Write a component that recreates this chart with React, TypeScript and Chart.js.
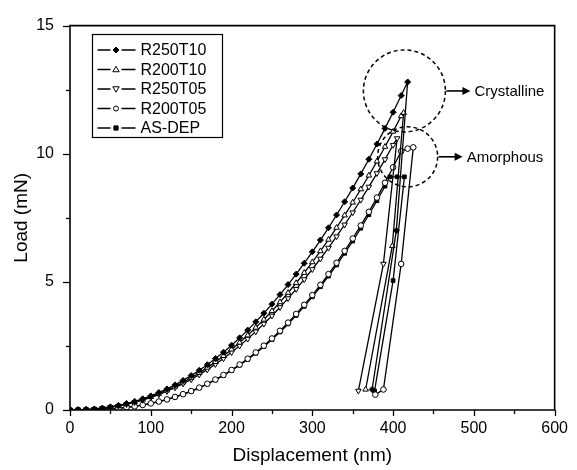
import React, { useEffect, useRef } from 'react';
import { Chart, registerables } from 'chart.js';

Chart.register(...registerables);

// Displacement grid (nm) for the loading branches
const loadDisp = [0, 10, 20, 30, 40, 50, 60, 70, 80, 90, 100, 110, 120, 130, 140, 150, 160, 170, 180, 190, 200, 210, 220, 230, 240, 250, 260, 270, 280, 290, 300, 310, 320, 330, 340, 350, 360, 370, 380, 390, 400, 410];

// Loading branches (mN)
const r250t10Load = [0, 0.004, 0.016, 0.039, 0.073, 0.12, 0.179, 0.251, 0.337, 0.436, 0.55, 0.679, 0.822, 0.98, 1.154, 1.343, 1.548, 1.769, 2.006, 2.258, 2.529, 2.815, 3.118, 3.439, 3.776, 4.132, 4.503, 4.893, 5.302, 5.727, 6.171, 6.632, 7.11, 7.61, 8.125, 8.66, 9.214, 9.787, 10.378, 10.988, 11.619, 12.27];
const r200t10Load = [0, 0.003, 0.015, 0.036, 0.068, 0.112, 0.167, 0.235, 0.315, 0.408, 0.514, 0.635, 0.769, 0.916, 1.079, 1.256, 1.447, 1.654, 1.876, 2.111, 2.365, 2.632, 2.915, 3.215, 3.531, 3.863, 4.21, 4.575, 4.957, 5.355, 5.77, 6.201, 6.648, 7.115, 7.597, 8.097, 8.615, 9.151, 9.703, 10.274, 10.864, 11.47];
const r250t05Load = [0, 0.003, 0.014, 0.035, 0.065, 0.107, 0.159, 0.223, 0.3, 0.388, 0.49, 0.604, 0.732, 0.872, 1.027, 1.195, 1.378, 1.574, 1.785, 2.01, 2.251, 2.505, 2.775, 3.061, 3.361, 3.677, 4.008, 4.355, 4.719, 5.097, 5.492, 5.902, 6.328, 6.773, 7.231, 7.707, 8.2, 8.71, 9.236, 9.779, 10.341];
const r200t05Load = [0, 0.001, 0.004, 0.011, 0.024, 0.043, 0.068, 0.102, 0.144, 0.196, 0.258, 0.33, 0.414, 0.51, 0.618, 0.739, 0.874, 1.024, 1.188, 1.367, 1.562, 1.773, 2.001, 2.246, 2.509, 2.791, 3.091, 3.409, 3.747, 4.105, 4.483, 4.882, 5.302, 5.743, 6.206, 6.692, 7.201, 7.734, 8.289, 8.866, 9.472, 10.1];
const asDepLoad = [0, 0.001, 0.004, 0.011, 0.023, 0.042, 0.067, 0.1, 0.142, 0.193, 0.254, 0.325, 0.408, 0.502, 0.609, 0.728, 0.861, 1.009, 1.17, 1.346, 1.539, 1.746, 1.971, 2.212, 2.471, 2.749, 3.045, 3.358, 3.691, 4.043, 4.416, 4.809, 5.222, 5.657, 6.113, 6.592, 7.093, 7.618, 8.165, 8.733];

// Peak hold + unloading branches
const r250t10TailDisp = [418, 404, 374];
const r250t10TailLoad = [12.8, 7.0, 0.8];
const r200t10TailDisp = [413, 399, 366];
const r200t10TailLoad = [11.6, 6.4, 0.8];
const r250t05TailDisp = [405, 388, 357];
const r250t05TailLoad = [10.6, 5.7, 0.75];
const r200t05TailDisp = [418, 425, 410, 388, 378];
const r200t05TailLoad = [10.2, 10.25, 5.7, 0.8, 0.6];
const asDepTailDisp = [396, 405, 414, 400, 377];
const asDepTailLoad = [9.1, 9.1, 9.1, 5.05, 0.75];

const seriesLabels = ['R250T10', 'R200T10', 'R250T05', 'R200T05', 'AS-DEP'];

const xTickValues = [0, 100, 200, 300, 400, 500, 600];
const yTickValues = [0, 5, 10, 15];

const annotationLabels = ['Crystalline', 'Amorphous'];
// circle centres in data units (nm, mN)
const annotationCentres = [
  [414, 12.45],
  [418, 9.88],
];

const FONT = '"Liberation Sans", Arial, Helvetica, sans-serif';

function buildPoints(load: number[], tailX: number[], tailY: number[]) {
  const pts = load.map((y, i) => ({ x: loadDisp[i], y }));
  tailX.forEach((x, i) => pts.push({ x, y: tailY[i] }));
  return pts;
}

const styles = [
  { pointStyle: 'rectRot', rotation: 0, fill: '#000', r: 3 },
  { pointStyle: 'triangle', rotation: 0, fill: '#fff', r: 3.2 },
  { pointStyle: 'triangle', rotation: 180, fill: '#fff', r: 3.2 },
  { pointStyle: 'circle', rotation: 0, fill: '#fff', r: 2.8 },
  { pointStyle: 'rect', rotation: 0, fill: '#000', r: 2.6 },
];

export default function App() {
  const ref = useRef<HTMLCanvasElement | null>(null);

  useEffect(() => {
    const canvas = ref.current;
    if (!canvas) return;

    const dataSets = [
      buildPoints(r250t10Load, r250t10TailDisp, r250t10TailLoad),
      buildPoints(r200t10Load, r200t10TailDisp, r200t10TailLoad),
      buildPoints(r250t05Load, r250t05TailDisp, r250t05TailLoad),
      buildPoints(r200t05Load, r200t05TailDisp, r200t05TailLoad),
      buildPoints(asDepLoad, asDepTailDisp, asDepTailLoad),
    ];

    const drawMarker = (ctx: CanvasRenderingContext2D, idx: number, x: number, y: number) => {
      const s = styles[idx];
      ctx.save();
      ctx.fillStyle = s.fill;
      ctx.strokeStyle = '#000';
      ctx.lineWidth = 1;
      ctx.beginPath();
      const r = s.r;
      if (s.pointStyle === 'rectRot') {
        ctx.moveTo(x, y - r); ctx.lineTo(x + r, y); ctx.lineTo(x, y + r); ctx.lineTo(x - r, y); ctx.closePath();
      } else if (s.pointStyle === 'triangle') {
        const d = s.rotation === 180 ? -1 : 1;
        ctx.moveTo(x, y - d * r); ctx.lineTo(x + r, y + d * r * 0.7); ctx.lineTo(x - r, y + d * r * 0.7); ctx.closePath();
      } else if (s.pointStyle === 'circle') {
        ctx.arc(x, y, r - 0.3, 0, Math.PI * 2);
      } else {
        ctx.rect(x - r + 0.5, y - r + 0.5, 2 * r - 1, 2 * r - 1);
      }
      ctx.fill();
      ctx.stroke();
      ctx.restore();
    };

    const decorations = {
      id: 'decorations',
      afterDraw(chart: any) {
        const ctx: CanvasRenderingContext2D = chart.ctx;
        const { left, right, top, bottom } = chart.chartArea;
        const xs = chart.scales.x;
        const ys = chart.scales.y;
        ctx.save();
        ctx.strokeStyle = '#000';
        // frame
        ctx.lineWidth = 1.6;
        ctx.beginPath();
        ctx.moveTo(left, top); ctx.lineTo(left, bottom); ctx.lineTo(right, bottom); ctx.lineTo(right, top); ctx.closePath();
        ctx.stroke();
        // y ticks
        ctx.lineWidth = 1.3;
        for (let v = 0; v <= 15; v += 2.5) {
          const py = Math.round(ys.getPixelForValue(v)) + 0.5;
          const len = v % 5 === 0 ? 7 : 4;
          ctx.beginPath(); ctx.moveTo(left - len, py); ctx.lineTo(left, py); ctx.stroke();
        }
        // x ticks
        for (let v = 0; v <= 600; v += 50) {
          const px = Math.round(xs.getPixelForValue(v)) + 0.5;
          const len = v % 100 === 0 ? 6 : 4;
          ctx.beginPath(); ctx.moveTo(px, bottom); ctx.lineTo(px, bottom + len); ctx.stroke();
        }

        // legend
        const lx = 92.5, ly = 34.5, lw = 130, lh = 103;
        ctx.lineWidth = 1.2;
        ctx.fillStyle = '#fff';
        ctx.fillRect(lx, ly, lw, lh);
        ctx.strokeRect(lx, ly, lw, lh);
        ctx.font = `16px ${FONT}`;
        ctx.textBaseline = 'middle';
        ctx.textAlign = 'left';
        seriesLabels.forEach((lab, i) => {
          const ry = ly + 15.5 + i * 19.5;
          ctx.lineWidth = 1.5;
          ctx.strokeStyle = '#000';
          ctx.beginPath();
          ctx.moveTo(lx + 5, ry); ctx.lineTo(lx + 18, ry);
          ctx.moveTo(lx + 29, ry); ctx.lineTo(lx + 43, ry);
          ctx.stroke();
          drawMarker(ctx, i, lx + 23.5, ry);
          ctx.fillStyle = '#000';
          ctx.fillText(lab, lx + 48, ry + 1);
        });

        // annotation circles + arrows
        const radii = [41, 30];
        annotationLabels.forEach((lab, i) => {
          const cx = xs.getPixelForValue(annotationCentres[i][0]);
          const cy = ys.getPixelForValue(annotationCentres[i][1]);
          const r = radii[i];
          ctx.save();
          ctx.setLineDash([4, 3]);
          ctx.lineWidth = 1.5;
          ctx.beginPath();
          ctx.arc(cx, cy, r, 0, Math.PI * 2);
          ctx.stroke();
          ctx.restore();
          const ax0 = cx + r + 1;
          const ax1 = ax0 + 24;
          ctx.lineWidth = 1.6;
          ctx.beginPath(); ctx.moveTo(ax0, cy); ctx.lineTo(ax1 - 6, cy); ctx.stroke();
          ctx.fillStyle = '#000';
          ctx.beginPath(); ctx.moveTo(ax1, cy); ctx.lineTo(ax1 - 8, cy - 4); ctx.lineTo(ax1 - 8, cy + 4); ctx.closePath(); ctx.fill();
          ctx.font = `15px ${FONT}`;
          ctx.textAlign = 'left';
          ctx.textBaseline = 'middle';
          ctx.fillText(lab, ax1 + 4, cy + 1);
        });
        ctx.restore();
      },
    };

    const chart = new Chart(canvas, {
      type: 'scatter',
      data: {
        datasets: dataSets.map((pts, i) => ({
          label: seriesLabels[i],
          data: pts,
          showLine: true,
          borderColor: '#000',
          borderWidth: 1.3,
          pointStyle: styles[i].pointStyle as any,
          rotation: styles[i].rotation,
          pointRadius: styles[i].r,
          pointBackgroundColor: styles[i].fill,
          pointBorderColor: '#000',
          pointBorderWidth: 1,
          tension: 0,
        })),
      },
      options: {
        responsive: false,
        animation: false,
        layout: { padding: { top: 19, right: 17, left: 0, bottom: 0 } },
        plugins: {
          legend: { display: false },
          tooltip: { enabled: false },
        },
        scales: {
          x: {
            type: 'linear',
            min: 0,
            max: 600,
            afterBuildTicks: (scale: any) => { scale.ticks = xTickValues.map((v) => ({ value: v })); },
            afterFit: (scale: any) => { scale.height = 60; },
            grid: { display: false, drawTicks: false },
            border: { display: false },
            ticks: { color: '#000', font: { family: FONT, size: 16 }, padding: 9, maxRotation: 0 },
            title: { display: true, text: 'Displacement (nm)', color: '#000', font: { family: FONT, size: 19 }, padding: { top: 0, bottom: 3 } },
          },
          y: {
            type: 'linear',
            min: 0,
            max: 15,
            afterBuildTicks: (scale: any) => { scale.ticks = yTickValues.map((v) => ({ value: v })); },
            afterFit: (scale: any) => { scale.width = 70; },
            grid: { display: false, drawTicks: false },
            border: { display: false },
            ticks: { color: '#000', font: { family: FONT, size: 16 }, padding: 16 },
            title: { display: true, text: 'Load (mN)', color: '#000', font: { family: FONT, size: 19 }, padding: { top: 10, bottom: 0 } },
          },
        },
      },
      plugins: [decorations],
    });

    return () => chart.destroy();
  }, []);

  return (
    <div style={{ position: 'fixed', left: 0, top: 0, width: 577, height: 470, background: '#fff' }}>
      <canvas ref={ref} width={577} height={470} style={{ display: 'block' }} />
    </div>
  );
}
